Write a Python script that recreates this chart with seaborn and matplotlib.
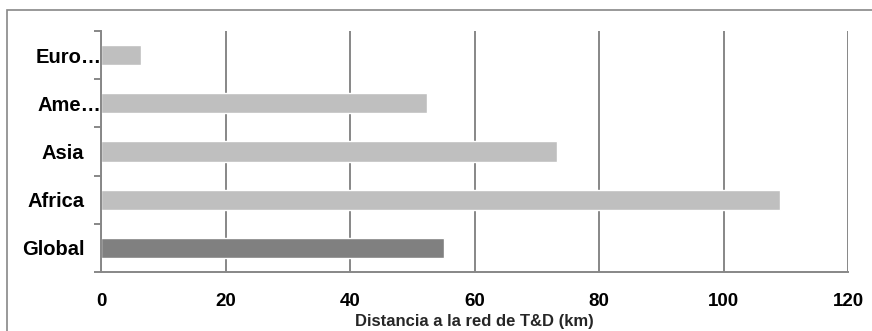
import matplotlib
matplotlib.use("Agg")
import matplotlib.pyplot as plt
import matplotlib.transforms as mtransforms
from matplotlib.patches import Rectangle
import seaborn as sns
import pandas as pd

# values
regions = ["Euro…", "Ame…", "Asia", "Africa", "Global"]
distance_km = [6.4, 52.4, 73.3, 109.1, 55.1]
bar_colors = ["#bfbfbf", "#bfbfbf", "#bfbfbf", "#bfbfbf", "#808080"]
x_ticks = [0, 20, 40, 60, 80, 100, 120]
x_label = "Distancia a la red de T&D (km)"

sns.set_theme(style="white")
plt.rcParams["font.family"] = ["Liberation Sans", "DejaVu Sans"]
plt.rcParams["font.weight"] = "bold"

grey = "#878787"

df = pd.DataFrame({"region": regions, "km": distance_km})

fig = plt.figure(figsize=(8.72, 3.31), dpi=100)
ax = fig.add_axes([101/872, 1 - 272/331, (848 - 101)/872, (272 - 31)/331])

sns.barplot(data=df, x="km", y="region", hue="region", palette=bar_colors,
            order=regions, hue_order=regions, orient="h", width=0.42,
            legend=False, saturation=1, ax=ax)

ax.set_xlim(0, 120)
ax.set_ylim(4.5, -0.5)
ax.set_xticks(x_ticks)
ax.set_xticklabels([str(t) for t in x_ticks], fontsize=13.5, fontweight="bold")
ax.set_yticks(range(len(regions)))
ax.set_yticklabels(regions, fontsize=14.5, fontweight="bold")
ax.set_yticks([i - 0.5 for i in range(len(regions) + 1)], minor=True)
ax.set_xlabel(x_label, fontsize=12, fontweight="bold", labelpad=3)
ax.set_ylabel("")

ax.grid(axis="x", color=grey, lw=1.4)
ax.grid(axis="y", visible=False)
ax.set_axisbelow(True)

for side in ["top", "right"]:
    ax.spines[side].set_visible(False)
for side in ["left", "bottom"]:
    ax.spines[side].set_color(grey)
    ax.spines[side].set_linewidth(1.4)

ax.tick_params(axis="x", which="major", direction="out", length=5, width=1.4,
               color=grey, pad=10, labelcolor="black")
ax.tick_params(axis="y", which="major", length=0, pad=12, labelcolor="black")
ax.tick_params(axis="y", which="minor", direction="out", length=5, width=1.4,
               color=grey, left=True)

# truncated labels spill over the axis like in the original
for lab in ax.get_yticklabels():
    if lab.get_text().endswith("…"):
        off = mtransforms.ScaledTranslation(17/100, 0, fig.dpi_scale_trans)
        lab.set_transform(lab.get_transform() + off)

# outer chart border
fig.add_artist(Rectangle((7/872, -0.2), 1.2, 1.2 - 10/331,
                         transform=fig.transFigure, fill=False,
                         ec=grey, lw=1.2))

fig.savefig("out.png", dpi=100)
